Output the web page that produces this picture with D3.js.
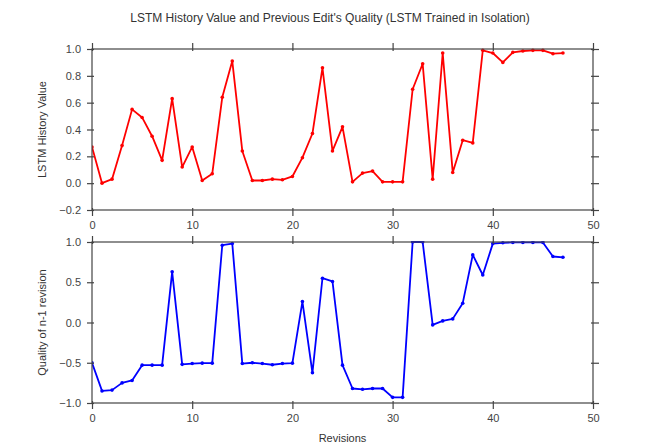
<!DOCTYPE html>
<html>
<head>
<meta charset="utf-8">
<script src="https://cdn.jsdelivr.net/npm/d3@7"></script>
<style>
  body { margin: 0; background: #fff; }
  text { font-family: 'Liberation Sans', Arial, sans-serif; }
</style>
</head>
<body>
<div id="chart"></div>
<script>
// values, one per revision 0..47
const revisions = d3.range(48)
const historyValue = [
  0.27, 0.0, 0.03, 0.28, 0.55, 0.49, 0.35, 0.17, 0.63, 0.12,
  0.27, 0.02, 0.07, 0.64, 0.91, 0.24, 0.02, 0.02, 0.03, 0.025,
  0.05, 0.19, 0.37, 0.86, 0.24, 0.42, 0.01, 0.075, 0.09, 0.01,
  0.01, 0.01, 0.70, 0.89, 0.03, 0.97, 0.08, 0.32, 0.30, 0.99,
  0.97, 0.90, 0.975, 0.985, 0.99, 0.99, 0.965, 0.97
]
const prevQuality = [
  -0.50, -0.85, -0.84, -0.75, -0.72, -0.53, -0.53, -0.53, 0.63, -0.52,
  -0.51, -0.505, -0.505, 0.96, 0.98, -0.51, -0.50, -0.51, -0.525, -0.51,
  -0.505, 0.26, -0.625, 0.55, 0.51, -0.53, -0.82, -0.83, -0.82, -0.82,
  -0.93, -0.93, 1.0, 1.0, -0.03, 0.02, 0.045, 0.24, 0.84, 0.59,
  0.98, 0.99, 0.995, 0.995, 0.995, 0.995, 0.82, 0.81
]
const xTicks = [0, 10, 20, 30, 40, 50]
const topYTicks = [-0.2, 0.0, 0.2, 0.4, 0.6, 0.8, 1.0]
const bottomYTicks = [-1.0, -0.5, 0.0, 0.5, 1.0]

const width = 653
const height = 447
const left = 92
const right = 593

const svg = d3
  .select('#chart')
  .append('svg')
  .attr('width', width)
  .attr('height', height)

const xPositionScale = d3.scaleLinear().domain([0, 50]).range([left, right])

svg
  .append('text')
  .attr('x', 330)
  .attr('y', 22)
  .attr('text-anchor', 'middle')
  .attr('font-size', 12)
  .attr('fill', '#333')
  .text("LSTM History Value and Previous Edit's Quality (LSTM Trained in Isolation)")

function drawPanel(values, yDomain, yTicks, top, bottom, color, yLabel, showXLabels) {
  const yPositionScale = d3.scaleLinear().domain(yDomain).range([bottom, top])
  const g = svg.append('g')

  const clipId = 'clip' + top
  g.append('clipPath')
    .attr('id', clipId)
    .append('rect')
    .attr('x', left)
    .attr('y', top - 1)
    .attr('width', right - left)
    .attr('height', bottom - top + 1)

  const line = d3
    .line()
    .x((d, i) => xPositionScale(revisions[i]))
    .y(d => yPositionScale(d))

  const marks = g.append('g').attr('clip-path', 'url(#' + clipId + ')')

  marks
    .append('path')
    .datum(values)
    .attr('d', line)
    .attr('fill', 'none')
    .attr('stroke', color)
    .attr('stroke-width', 1.8)
    .attr('stroke-linejoin', 'round')

  marks
    .selectAll('circle')
    .data(values)
    .enter()
    .append('circle')
    .attr('cx', (d, i) => xPositionScale(revisions[i]))
    .attr('cy', d => yPositionScale(d))
    .attr('r', 1.8)
    .attr('fill', color)

  // ticks crossing the frame on all four sides
  const tickStyle = sel => {
    sel.select('.domain').remove()
    sel.selectAll('line').attr('stroke', '#444').attr('stroke-width', 1.2)
    sel.selectAll('text').attr('fill', '#444').attr('font-size', 11)
  }

  const bottomAxis = g
    .append('g')
    .attr('transform', 'translate(0,' + bottom + ')')
    .call(d3.axisBottom(xPositionScale).tickValues(xTicks).tickFormat(d3.format('d')).tickSize(6).tickPadding(5))
    .call(tickStyle)
  bottomAxis.selectAll('line').attr('y1', -2)
  if (!showXLabels) bottomAxis.selectAll('text').remove()

  const topAxis = g
    .append('g')
    .attr('transform', 'translate(0,' + top + ')')
    .call(d3.axisTop(xPositionScale).tickValues(xTicks).tickFormat('').tickSize(6))
    .call(tickStyle)
  topAxis.selectAll('line').attr('y1', 2)

  const leftAxis = g
    .append('g')
    .attr('transform', 'translate(' + left + ',0)')
    .call(d3.axisLeft(yPositionScale).tickValues(yTicks).tickFormat(d3.format('.1f')).tickSize(5).tickPadding(6))
    .call(tickStyle)
  leftAxis.selectAll('line').attr('x1', 2)
  leftAxis.selectAll('text').text(d => d3.format('.1f')(d).replace('-', '\u2212'))

  const rightAxis = g
    .append('g')
    .attr('transform', 'translate(' + right + ',0)')
    .call(d3.axisRight(yPositionScale).tickValues(yTicks).tickFormat('').tickSize(6))
    .call(tickStyle)
  rightAxis.selectAll('line').attr('x1', -2)

  g.append('rect')
    .attr('x', left)
    .attr('y', top)
    .attr('width', right - left)
    .attr('height', bottom - top)
    .attr('fill', 'none')
    .attr('stroke', '#444')
    .attr('stroke-width', 1.2)

  g.append('text')
    .attr('transform', 'translate(46,' + (top + bottom) / 2 + ') rotate(-90)')
    .attr('text-anchor', 'middle')
    .attr('font-size', 11)
    .attr('fill', '#333')
    .text(yLabel)
}

drawPanel(historyValue, [-0.2, 1.0], topYTicks, 49, 210, '#ff0000', 'LSTM History Value', true)
drawPanel(prevQuality, [-1.0, 1.0], bottomYTicks, 242, 403, '#0000ff', 'Quality of n-1 revision', true)

svg
  .append('text')
  .attr('x', (left + right) / 2)
  .attr('y', 442)
  .attr('text-anchor', 'middle')
  .attr('font-size', 11)
  .attr('fill', '#333')
  .text('Revisions')
</script>
</body>
</html>
